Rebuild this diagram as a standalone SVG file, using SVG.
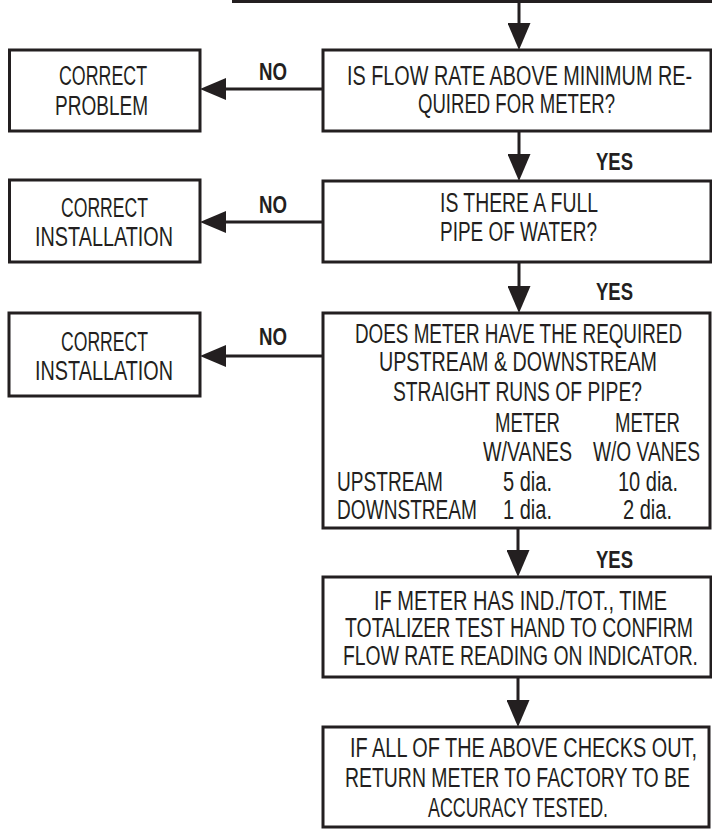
<svg xmlns="http://www.w3.org/2000/svg" width="712" height="829" viewBox="0 0 712 829">
<style>
.box{fill:#fff;stroke:#231f20;stroke-width:3}
.t{font-family:"Liberation Sans Narrow","Liberation Sans",Arial,sans-serif;font-size:27px;fill:#231f20;text-anchor:middle}
.l{font-family:"Liberation Sans Narrow","Liberation Sans",Arial,sans-serif;font-size:23px;font-weight:bold;fill:#231f20;text-anchor:middle}
.s{text-anchor:start}
.c{fill:none;stroke:#231f20;stroke-width:3}
</style>
<defs>
<marker id="ah" markerUnits="userSpaceOnUse" markerWidth="27" markerHeight="23" refX="0" refY="11.5" orient="auto">
<path d="M0,0 L27,11.5 L0,23 z" fill="#231f20"/>
</marker>
<marker id="ahh" markerUnits="userSpaceOnUse" markerWidth="26" markerHeight="22" refX="0" refY="11" orient="auto">
<path d="M0,0 L26,11 L0,22 z" fill="#231f20"/>
</marker>
</defs>
<g id="connectors">
<line class="c" x1="232" y1="1.5" x2="712" y2="1.5"/>
<path class="c" d="M519,0 V23" marker-end="url(#ah)"/>
<path class="c" d="M519,131 V154" marker-end="url(#ah)"/>
<path class="c" d="M519,262 V286" marker-end="url(#ah)"/>
<path class="c" d="M518,528 V550" marker-end="url(#ah)"/>
<path class="c" d="M518,677 V700" marker-end="url(#ah)"/>
<path class="c" d="M323,89 H226" marker-end="url(#ahh)"/>
<path class="c" d="M323,222 H226" marker-end="url(#ahh)"/>
<path class="c" d="M323,356 H226" marker-end="url(#ahh)"/>
<text class="l" x="273" y="80" textLength="28" lengthAdjust="spacingAndGlyphs">NO</text>
<text class="l" x="273" y="212.5" textLength="28" lengthAdjust="spacingAndGlyphs">NO</text>
<text class="l" x="273" y="344.5" textLength="28" lengthAdjust="spacingAndGlyphs">NO</text>
<text class="l" x="614.5" y="169.5" textLength="37" lengthAdjust="spacingAndGlyphs">YES</text>
<text class="l" x="614.5" y="299.5" textLength="37" lengthAdjust="spacingAndGlyphs">YES</text>
<text class="l" x="614.5" y="568" textLength="37" lengthAdjust="spacingAndGlyphs">YES</text>
</g>
<g id="correct-problem">
<rect class="box" x="9.5" y="50" width="190.5" height="81"/>
<text class="t" x="103" y="85" textLength="88" lengthAdjust="spacingAndGlyphs">CORRECT</text>
<text class="t" x="101.5" y="115" textLength="93" lengthAdjust="spacingAndGlyphs">PROBLEM</text>
</g>
<g id="flow-rate">
<rect class="box" x="323" y="50" width="388" height="81"/>
<text class="t" x="519.5" y="85" textLength="345" lengthAdjust="spacingAndGlyphs">IS FLOW RATE ABOVE MINIMUM RE-</text>
<text class="t" x="516.5" y="113" textLength="197" lengthAdjust="spacingAndGlyphs">QUIRED FOR METER?</text>
</g>
<g id="correct-installation-1">
<rect class="box" x="9.5" y="180" width="190.5" height="82"/>
<text class="t" x="104.5" y="217" textLength="87" lengthAdjust="spacingAndGlyphs">CORRECT</text>
<text class="t" x="104" y="246" textLength="138" lengthAdjust="spacingAndGlyphs">INSTALLATION</text>
</g>
<g id="full-pipe">
<rect class="box" x="323" y="181" width="388" height="81"/>
<text class="t" x="519" y="212" textLength="158" lengthAdjust="spacingAndGlyphs">IS THERE A FULL</text>
<text class="t" x="518.5" y="241" textLength="157" lengthAdjust="spacingAndGlyphs">PIPE OF WATER?</text>
</g>
<g id="correct-installation-2">
<rect class="box" x="9" y="313" width="191" height="83"/>
<text class="t" x="104.5" y="351" textLength="87" lengthAdjust="spacingAndGlyphs">CORRECT</text>
<text class="t" x="104" y="379.5" textLength="138" lengthAdjust="spacingAndGlyphs">INSTALLATION</text>
</g>
<g id="straight-runs">
<rect class="box" x="323" y="313" width="387" height="215"/>
<text class="t" x="518.5" y="342.5" textLength="327" lengthAdjust="spacingAndGlyphs">DOES METER HAVE THE REQUIRED</text>
<text class="t" x="518" y="371" textLength="278" lengthAdjust="spacingAndGlyphs">UPSTREAM &amp; DOWNSTREAM</text>
<text class="t" x="517.5" y="400.5" textLength="249" lengthAdjust="spacingAndGlyphs">STRAIGHT RUNS OF PIPE?</text>
<text class="t" x="527.5" y="432" textLength="65" lengthAdjust="spacingAndGlyphs">METER</text>
<text class="t" x="647.5" y="432" textLength="65" lengthAdjust="spacingAndGlyphs">METER</text>
<text class="t" x="527.5" y="461" textLength="89" lengthAdjust="spacingAndGlyphs">W/VANES</text>
<text class="t" x="646.5" y="461" textLength="107" lengthAdjust="spacingAndGlyphs">W/O VANES</text>
<text class="t s" x="337" y="491" textLength="106" lengthAdjust="spacingAndGlyphs">UPSTREAM</text>
<text class="t" x="527.5" y="491" textLength="49" lengthAdjust="spacingAndGlyphs">5 dia.</text>
<text class="t" x="648" y="491" textLength="60" lengthAdjust="spacingAndGlyphs">10 dia.</text>
<text class="t s" x="337" y="519" textLength="140" lengthAdjust="spacingAndGlyphs">DOWNSTREAM</text>
<text class="t" x="527.5" y="519" textLength="49" lengthAdjust="spacingAndGlyphs">1 dia.</text>
<text class="t" x="647.5" y="519" textLength="49" lengthAdjust="spacingAndGlyphs">2 dia.</text>
</g>
<g id="totalizer-test">
<rect class="box" x="323" y="577" width="388" height="100"/>
<text class="t" x="520.5" y="609.5" textLength="293" lengthAdjust="spacingAndGlyphs">IF METER HAS IND./TOT., TIME</text>
<text class="t" x="519" y="637" textLength="348" lengthAdjust="spacingAndGlyphs">TOTALIZER TEST HAND TO CONFIRM</text>
<text class="t" x="520.5" y="665" textLength="355" lengthAdjust="spacingAndGlyphs">FLOW RATE READING ON INDICATOR.</text>
</g>
<g id="return-meter">
<rect class="box" x="323" y="727" width="386" height="100"/>
<text class="t" x="523.5" y="757" textLength="347" lengthAdjust="spacingAndGlyphs">IF ALL OF THE ABOVE CHECKS OUT,</text>
<text class="t" x="517.5" y="787" textLength="345" lengthAdjust="spacingAndGlyphs">RETURN METER TO FACTORY TO BE</text>
<text class="t" x="518" y="817" textLength="180" lengthAdjust="spacingAndGlyphs">ACCURACY TESTED.</text>
</g>
</svg>
